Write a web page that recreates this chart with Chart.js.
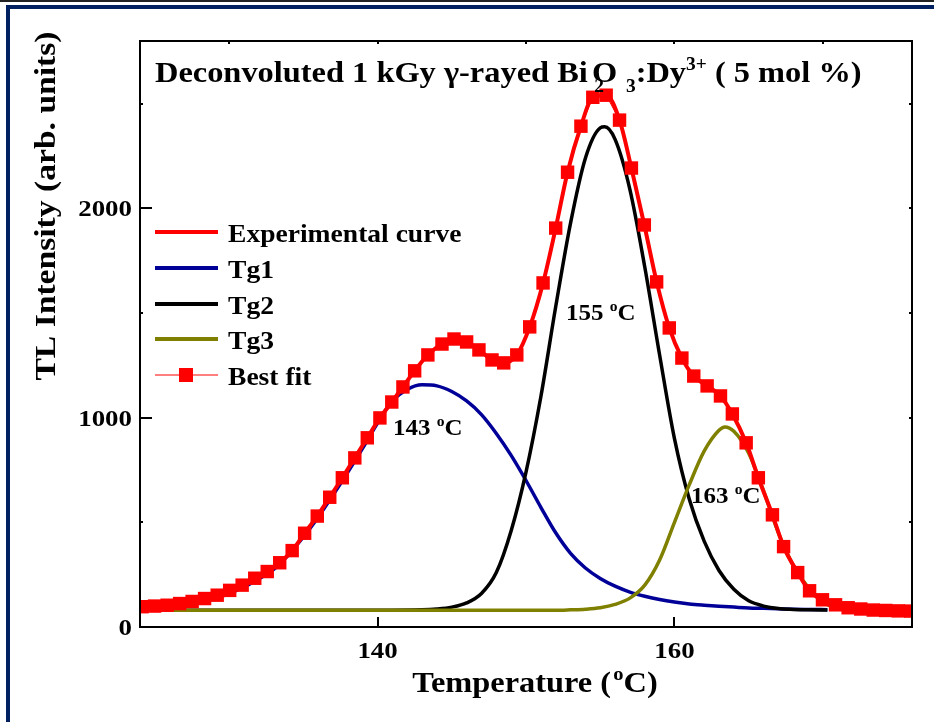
<!DOCTYPE html>
<html>
<head>
<meta charset="utf-8">
<script src="https://cdn.jsdelivr.net/npm/chart.js@4.4.0/dist/chart.umd.min.js"></script>
<style>
    html, body { margin: 0; padding: 0; background: #fff; }
    canvas { display: block; }
</style>
</head>
<body>
<canvas id="tl-chart" width="934" height="722"></canvas>
<script>
// Axis ticks
const xTicks = [140, 160];
const xMinorTicks = [130, 150, 170];
const yTicks = [0, 1000, 2000];
const yMinorTicks = [500, 1500, 2500];

// Glow curve (experimental curve and best fit squares)
const tlTemps = [124.14, 124.98, 125.83, 126.67, 127.51, 128.35, 129.2, 130.04, 130.88, 131.73,
    132.57, 133.41, 134.25, 135.09, 135.94, 136.78, 137.63, 138.47, 139.31, 140.16,
    140.96, 141.71, 142.5, 143.39, 144.34, 145.15, 146.0, 146.83, 147.71, 148.5,
    149.38, 150.25, 151.15, 152.0, 152.8, 153.7, 154.5, 155.4, 156.3, 157.1,
    157.97, 158.8, 159.65, 160.5, 161.3, 162.2, 163.1, 163.9, 164.83, 165.65,
    166.6, 167.35, 168.3, 169.1, 169.97, 170.85, 171.7, 172.55, 173.39, 174.23,
    175.08, 175.92];
const tlValues = [97, 100, 104, 112, 122, 136, 152, 175, 200, 233,
    265, 307, 365, 448, 530, 620, 713, 808, 904, 999,
    1075, 1147, 1224, 1300, 1352, 1376, 1362, 1324, 1276, 1262,
    1300, 1434, 1644, 1906, 2173, 2393, 2531, 2541, 2422, 2193,
    1921, 1649, 1429, 1285, 1199, 1152, 1104, 1018, 880, 713,
    536, 384, 260, 173, 130, 106, 92, 86, 81, 79,
    77, 76];

// Deconvoluted peaks
const tg1Temps = [124, 125, 126, 127, 128, 129, 130, 131, 132, 133, 134, 135, 136, 137, 138, 139,
    140, 141, 142, 143, 144, 145, 146, 147, 148, 149, 150, 151, 152, 153, 154, 155,
    156, 157, 158, 159, 160, 161, 162, 163, 164, 165, 166, 167, 168, 169, 170.3];
const tg1Values = [83, 87, 93, 102, 115, 135, 160, 190, 230, 275, 345, 430, 525, 630, 740, 855,
    975, 1080, 1135, 1157, 1152, 1125, 1080, 1015, 925, 820, 700, 572, 450, 352, 282, 232,
    195, 167, 147, 131, 119, 110, 104, 99, 95, 91, 89, 87, 85, 84, 83];

const tg2Temps = [124, 140, 143, 144, 145, 146, 147, 148, 149, 150, 151, 152, 153, 154, 155, 155.3,
    156, 157, 158, 159, 160, 161, 162, 163, 164, 165, 166, 167, 168, 169, 170.3];
const tg2Values = [80, 80, 82, 86, 95, 115, 160, 260, 460, 740, 1100, 1530, 1930, 2240, 2385, 2390,
    2330, 2090, 1720, 1300, 900, 610, 410, 270, 180, 125, 100, 88, 84, 82, 81];

const tg3Temps = [124, 152, 153, 154, 155, 156, 157, 158, 159, 160, 161, 162, 163, 163.4,
    164, 165, 166, 167, 168, 169, 170, 171, 172, 173, 176];
const tg3Values = [80, 80, 82, 85, 92, 108, 138, 200, 320, 500, 680, 840, 940, 956,
    935, 830, 650, 450, 295, 190, 118, 92, 84, 81, 80];

const legendOrder = ['Experimental curve', 'Tg1', 'Tg2', 'Tg3', 'Best fit'];

const peakLabels = [
    { text: '143 ', x: 393, y: 435 },
    { text: '155 ', x: 566, y: 320 },
    { text: '163 ', x: 691, y: 503 }
];

const FONT = '"Liberation Serif", "Times New Roman", serif';

function toPoints(xs, ys) {
    return xs.map((x, i) => ({ x: x, y: ys[i] }));
}

// Draw a run of text pieces (for sub/superscripts), horizontally stretched a bit
function drawRuns(ctx, runs, x, y, opts) {
    const stretch = opts.stretch || 1.1;
    ctx.save();
    ctx.translate(x, y);
    if (opts.rotate) ctx.rotate(opts.rotate);
    ctx.scale(stretch, 1);
    ctx.fillStyle = '#000';
    ctx.textBaseline = 'alphabetic';
    ctx.textAlign = 'left';
    let total = 0;
    runs.forEach(r => {
        ctx.font = 'bold ' + r.size + 'px ' + FONT;
        if (!r.noAdvance) total += ctx.measureText(r.t).width + (r.dx || 0);
    });
    let cx = 0;
    if (opts.align === 'center') cx = -total / 2;
    if (opts.align === 'right') cx = -total;
    runs.forEach(r => {
        ctx.font = 'bold ' + r.size + 'px ' + FONT;
        const px = cx + (r.dx || 0);
        ctx.fillText(r.t, px, r.dy || 0);
        if (!r.noAdvance) cx = px + ctx.measureText(r.t).width;
    });
    ctx.restore();
}

const decorPlugin = {
    id: 'decor',
    beforeDraw(chart) {
        const ctx = chart.ctx;
        const w = chart.width, h = chart.height;
        ctx.save();
        ctx.fillStyle = '#fff';
        ctx.fillRect(0, 0, w, h);
        // figure frame
        ctx.fillStyle = '#222';
        ctx.fillRect(0, 0, w, 2);
        ctx.fillStyle = '#002060';
        ctx.fillRect(6, 5, w - 6, 4);
        ctx.fillRect(6, 5, 4, h - 5);
        ctx.restore();
    },
    afterDraw(chart) {
        const ctx = chart.ctx;
        const area = chart.chartArea;
        const xs = chart.scales.x, ys = chart.scales.y;

        ctx.save();
        ctx.strokeStyle = '#000';
        ctx.lineWidth = 2;
        ctx.strokeRect(area.left, area.top, area.right - area.left, area.bottom - area.top);

        // ticks (inward)
        ctx.beginPath();
        xTicks.forEach(v => {
            const px = Math.round(xs.getPixelForValue(v));
            ctx.moveTo(px, area.bottom); ctx.lineTo(px, area.bottom - 10);
            ctx.moveTo(px, area.top); ctx.lineTo(px, area.top + 3);
        });
        xMinorTicks.forEach(v => {
            const px = Math.round(xs.getPixelForValue(v));
            ctx.moveTo(px, area.top); ctx.lineTo(px, area.top + 3);
        });
        yTicks.forEach(v => {
            const py = Math.round(ys.getPixelForValue(v));
            ctx.moveTo(area.left, py); ctx.lineTo(area.left + 12, py);
            ctx.moveTo(area.right, py); ctx.lineTo(area.right - 3, py);
        });
        yMinorTicks.forEach(v => {
            const py = Math.round(ys.getPixelForValue(v));
            ctx.moveTo(area.left, py); ctx.lineTo(area.left + 3, py);
            ctx.moveTo(area.right, py); ctx.lineTo(area.right - 3, py);
        });
        ctx.stroke();
        ctx.restore();

        // tick labels
        xTicks.forEach(v => {
            drawRuns(ctx, [{ t: String(v), size: 24 }], xs.getPixelForValue(v), 658, { align: 'center', stretch: 1.12 });
        });
        yTicks.forEach(v => {
            drawRuns(ctx, [{ t: String(v), size: 24 }], 132, ys.getPixelForValue(v) + 8, { align: 'right', stretch: 1.12 });
        });

        // axis titles
        drawRuns(ctx, [
            { t: 'Temperature (', size: 30 },
            { t: 'o', size: 19, dy: -12, dx: 2 },
            { t: 'C)', size: 30 }
        ], 535, 692, { align: 'center', stretch: 1.08 });
        drawRuns(ctx, [{ t: 'TL Intensity (arb. units)', size: 30 }], 55, 206,
            { align: 'center', stretch: 1.12, rotate: -Math.PI / 2 });

        // title
        drawRuns(ctx, [
            { t: 'Deconvoluted 1 kGy \u03b3-rayed Bi', size: 30 },
            { t: '2', size: 18, dy: 10, dx: 6, noAdvance: true },
            { t: 'O', size: 30, dx: 4 },
            { t: '3', size: 18, dy: 10, dx: 8 },
            { t: ':Dy', size: 30 },
            { t: '3+', size: 18, dy: -12 },
            { t: ' ( 5 mol %)', size: 30 }
        ], 155, 82, { stretch: 1.08 });

        // peak temperatures
        peakLabels.forEach(p => {
            drawRuns(ctx, [
                { t: p.text, size: 24 },
                { t: 'o', size: 15, dy: -9 },
                { t: 'C', size: 24 }
            ], p.x, p.y, { stretch: 1.04 });
        });

        // legend
        const rowY = [232, 268, 304, 339, 375];
        legendOrder.forEach((label, i) => {
            const ds = chart.data.datasets.find(d => d.label === label);
            const y = rowY[i];
            ctx.save();
            ctx.strokeStyle = ds.borderColor;
            ctx.lineWidth = label === 'Best fit' ? 1 : 4;
            ctx.beginPath();
            ctx.moveTo(155, y); ctx.lineTo(218, y);
            ctx.stroke();
            if (label === 'Best fit') {
                ctx.fillStyle = ds.backgroundColor;
                ctx.fillRect(179, y - 7, 14, 14);
            }
            ctx.restore();
            drawRuns(ctx, [{ t: label, size: 26 }], 228, y + 10, { stretch: 1.06 });
        });
    }
};

document.addEventListener('DOMContentLoaded', () => {
    const ctx = document.getElementById('tl-chart').getContext('2d');

    new Chart(ctx, {
        type: 'scatter',
        data: {
            datasets: [
                {
                    label: 'Best fit',
                    data: toPoints(tlTemps, tlValues),
                    showLine: true,
                    borderColor: '#ff0000',
                    backgroundColor: '#ff0000',
                    borderWidth: 1,
                    pointStyle: 'rect',
                    pointRadius: 9.5,
                    pointBorderWidth: 0,
                    clip: 0
                },
                {
                    label: 'Experimental curve',
                    data: toPoints(tlTemps, tlValues),
                    showLine: true,
                    borderColor: '#ff0000',
                    borderWidth: 4,
                    pointRadius: 0,
                    cubicInterpolationMode: 'monotone',
                    clip: 0
                },
                {
                    label: 'Tg3',
                    data: toPoints(tg3Temps, tg3Values),
                    showLine: true,
                    borderColor: '#808000',
                    borderWidth: 3.5,
                    pointRadius: 0,
                    cubicInterpolationMode: 'monotone',
                    clip: 0
                },
                {
                    label: 'Tg2',
                    data: toPoints(tg2Temps, tg2Values),
                    showLine: true,
                    borderColor: '#000000',
                    borderWidth: 3.5,
                    pointRadius: 0,
                    cubicInterpolationMode: 'monotone',
                    clip: 0
                },
                {
                    label: 'Tg1',
                    data: toPoints(tg1Temps, tg1Values),
                    showLine: true,
                    borderColor: '#000099',
                    borderWidth: 3.5,
                    pointRadius: 0,
                    cubicInterpolationMode: 'monotone',
                    clip: 0
                }
            ]
        },
        options: {
            responsive: false,
            animation: false,
            devicePixelRatio: 1,
            events: [],
            layout: {
                padding: { left: 140, right: 22, top: 41, bottom: 95 }
            },
            scales: {
                x: { type: 'linear', min: 124, max: 176, display: false },
                y: { type: 'linear', min: 0, max: 2800, display: false }
            },
            plugins: {
                legend: { display: false },
                tooltip: { enabled: false }
            }
        },
        plugins: [decorPlugin]
    });
});
</script>
</body>
</html>
